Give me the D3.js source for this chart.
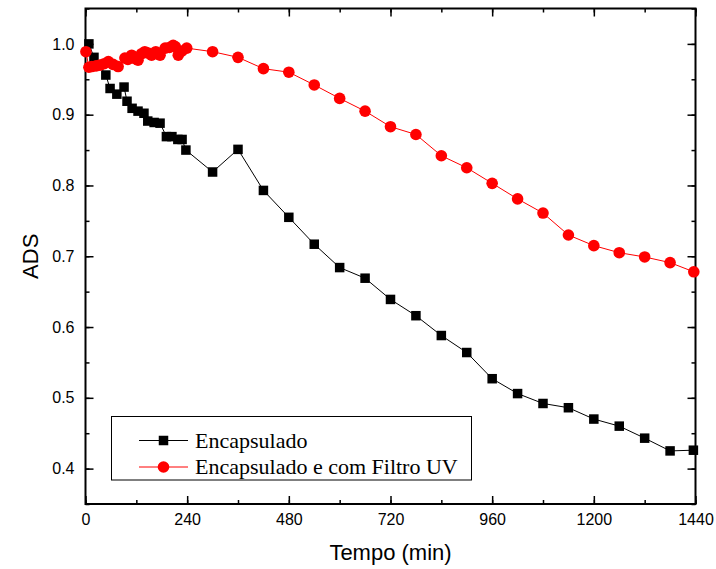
<!DOCTYPE html>
<html><head><meta charset="utf-8">
<script src="https://cdn.jsdelivr.net/npm/d3@7"></script>
<style>body{margin:0;background:#fff}</style>
</head><body>
<svg id="c" width="716" height="569"></svg>
<script>
// ---- data ----
const blackTime = [8, 20, 48, 58, 74, 91, 98, 110, 124, 138, 147, 162, 176, 191, 204, 218, 228, 237,
  300, 360, 420, 480, 540, 600, 660, 720, 780, 840, 900, 960, 1020, 1080, 1140, 1200, 1260, 1320, 1380, 1435];
const blackADS = [1.000, 0.981, 0.956, 0.937, 0.929, 0.939, 0.919, 0.909, 0.905, 0.902, 0.891, 0.889, 0.888, 0.869, 0.869, 0.865, 0.865, 0.850,
  0.819, 0.851, 0.793, 0.755, 0.717, 0.684, 0.669, 0.639, 0.616, 0.588, 0.564, 0.527, 0.506, 0.492, 0.486, 0.470, 0.460, 0.443, 0.425, 0.426];
const redTime = [1, 8, 15, 25, 34, 44, 54, 65, 77, 93, 100, 109, 117, 124, 132, 140, 148, 156, 166, 176, 188, 198, 207, 212, 219, 228, 239,
  300, 360, 420, 480, 540, 600, 660, 720, 780, 840, 900, 960, 1020, 1080, 1140, 1200, 1260, 1320, 1380, 1436];
const redADS = [0.989, 0.967, 0.968, 0.969, 0.970, 0.972, 0.975, 0.971, 0.968, 0.980, 0.978, 0.984, 0.979, 0.977, 0.986, 0.989, 0.987, 0.984, 0.989, 0.984, 0.994, 0.995, 0.998, 0.996, 0.984, 0.990, 0.994,
  0.989, 0.981, 0.965, 0.960, 0.942, 0.923, 0.905, 0.883, 0.872, 0.842, 0.825, 0.803, 0.781, 0.761, 0.730, 0.715, 0.705, 0.699, 0.691, 0.678];
const xTicks = [0, 240, 480, 720, 960, 1200, 1440];
const yTicks = [0.4, 0.5, 0.6, 0.7, 0.8, 0.9, 1.0];
const seriesNames = ["Encapsulado", "Encapsulado e com Filtro UV"];
const xLabel = "Tempo (min)";
const yLabel = "ADS";

// ---- layout ----
const L = 85.5, R = 695.5, T = 8.5, B = 504;
const svg = d3.select("#c");
const x = d3.scaleLinear().domain([0, 1440]).range([L, R]);
const y = d3.scaleLinear().domain([0.35, 1.05]).range([B, T]);
const sans = "'Liberation Sans', Arial, sans-serif";
const serif = "'Liberation Serif', 'Times New Roman', serif";

const xMinor = d3.range(0, 1441, 120);
const yMinor = d3.range(0, 15).map(i => +(0.35 + i * 0.05).toFixed(2));

function styleAxis(g) {
  g.select(".domain").remove();
  g.selectAll("line").attr("stroke", "#000").attr("stroke-width", 1.5);
  g.selectAll("text").attr("font-family", sans).attr("font-size", 16).attr("fill", "#000");
}
// minor ticks
svg.append("g").attr("transform", `translate(0,${B})`).call(d3.axisBottom(x).tickValues(xMinor).tickSize(-4).tickFormat("")).call(styleAxis);
svg.append("g").attr("transform", `translate(0,${T})`).call(d3.axisTop(x).tickValues(xMinor).tickSize(-4).tickFormat("")).call(styleAxis);
svg.append("g").attr("transform", `translate(${L},0)`).call(d3.axisLeft(y).tickValues(yMinor).tickSize(-4).tickFormat("")).call(styleAxis);
svg.append("g").attr("transform", `translate(${R},0)`).call(d3.axisRight(y).tickValues(yMinor).tickSize(-4).tickFormat("")).call(styleAxis);
// major ticks
svg.append("g").attr("transform", `translate(0,${B})`).call(d3.axisBottom(x).tickValues(xTicks).tickSize(-8).tickPadding(10).tickFormat(d3.format("d"))).call(styleAxis);
svg.append("g").attr("transform", `translate(0,${T})`).call(d3.axisTop(x).tickValues(xTicks).tickSize(-8).tickFormat("")).call(styleAxis);
svg.append("g").attr("transform", `translate(${L},0)`).call(d3.axisLeft(y).tickValues(yTicks).tickSize(-8).tickPadding(11).tickFormat(d3.format(".1f"))).call(styleAxis);
svg.append("g").attr("transform", `translate(${R},0)`).call(d3.axisRight(y).tickValues(yTicks).tickSize(-8).tickFormat("")).call(styleAxis);

// frame
svg.append("rect").attr("x", L).attr("y", T).attr("width", R - L).attr("height", B - T)
  .attr("fill", "none").attr("stroke", "#000").attr("stroke-width", 2);

// axis titles
svg.append("text").attr("x", (L + R) / 2).attr("y", 560).attr("text-anchor", "middle")
  .attr("font-family", sans).attr("font-size", 22).text(xLabel);
svg.append("text").attr("transform", `translate(38,${(T + B) / 2}) rotate(-90)`).attr("text-anchor", "middle")
  .attr("font-family", sans).attr("font-size", 22).text(yLabel);

// series
const blackData = blackTime.map((t, i) => [t, blackADS[i]]);
const redData = redTime.map((t, i) => [t, redADS[i]]);
const line = d3.line().x(d => x(d[0])).y(d => y(d[1]));
const sq = 9.5;

svg.append("path").datum(blackData).attr("d", line).attr("fill", "none").attr("stroke", "#000").attr("stroke-width", 1);
svg.append("g").selectAll("rect").data(blackData).join("rect")
  .attr("x", d => x(d[0]) - sq / 2).attr("y", d => y(d[1]) - sq / 2).attr("width", sq).attr("height", sq).attr("fill", "#000");

svg.append("path").datum(redData).attr("d", line).attr("fill", "none").attr("stroke", "#ff0000").attr("stroke-width", 1);
svg.append("g").selectAll("circle").data(redData).join("circle")
  .attr("cx", d => x(d[0])).attr("cy", d => y(d[1])).attr("r", 5.8).attr("fill", "#ff0000");

// legend
const lg = svg.append("g");
lg.append("rect").attr("x", 111.5).attr("y", 416.5).attr("width", 360).attr("height", 63.5)
  .attr("fill", "#fff").attr("stroke", "#000").attr("stroke-width", 1);
const rows = [{y: 440.5, c: "#000", shape: "sq"}, {y: 467, c: "#ff0000", shape: "ci"}];
rows.forEach((r, i) => {
  lg.append("line").attr("x1", 139).attr("x2", 188).attr("y1", r.y).attr("y2", r.y).attr("stroke", r.c).attr("stroke-width", 1);
  if (r.shape === "sq") lg.append("rect").attr("x", 163.5 - sq / 2).attr("y", r.y - sq / 2).attr("width", sq).attr("height", sq).attr("fill", r.c);
  else lg.append("circle").attr("cx", 163.5).attr("cy", r.y).attr("r", 5.8).attr("fill", r.c);
  lg.append("text").attr("x", 195).attr("y", r.y + 7).attr("font-family", serif).attr("font-size", 22).attr("fill", "#000").text(seriesNames[i]);
});
</script>
</body></html>
